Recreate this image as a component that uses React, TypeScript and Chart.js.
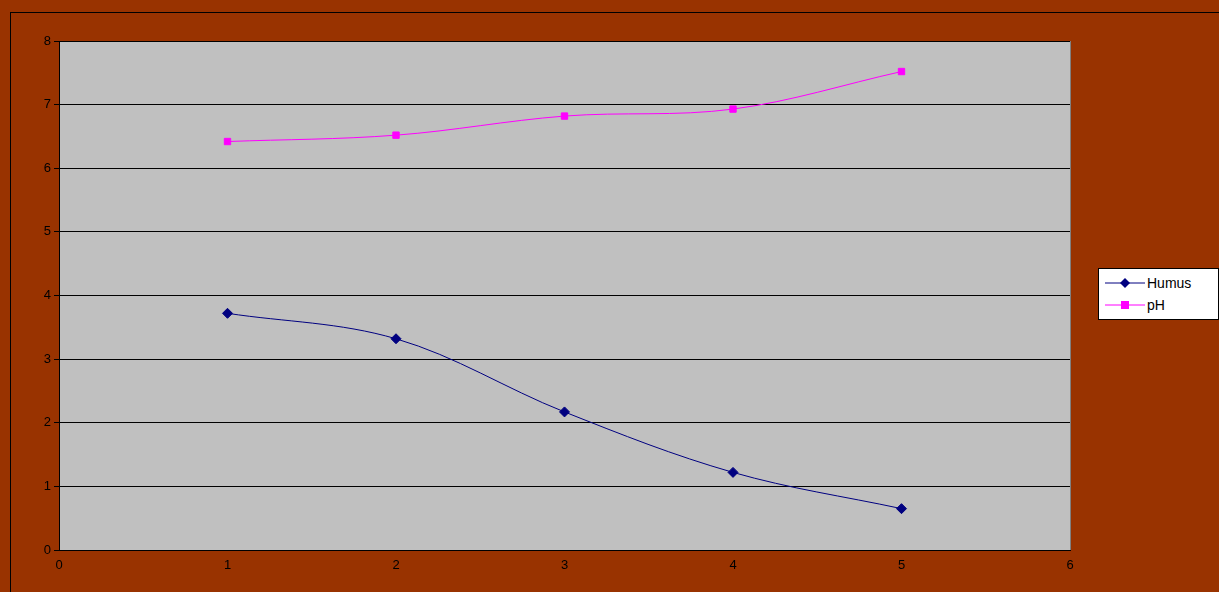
import React, { useEffect, useRef } from "react";
import { Chart, registerables } from "chart.js";
Chart.register(...registerables);

const xValues = [1, 2, 3, 4, 5];
const humus = [3.72, 3.32, 2.17, 1.22, 0.65];
const ph = [6.42, 6.52, 6.82, 6.93, 7.52];

const bgPlugin = {
  id: "bg",
  beforeDraw(chart: any) {
    const { ctx, chartArea: a } = chart;
    ctx.save();
    ctx.fillStyle = "#c0c0c0";
    ctx.fillRect(a.left, a.top, a.right - a.left, a.bottom - a.top);
    ctx.strokeStyle = "#808080";
    ctx.lineWidth = 1;
    ctx.strokeRect(a.left + 0.5, a.top + 0.5, a.right - a.left, a.bottom - a.top);
    ctx.restore();
  },
};

export default function App() {
  const ref = useRef<HTMLCanvasElement>(null);
  useEffect(() => {
    document.body.style.margin = "0";
    const mk = (d: number[]) => xValues.map((x, i) => ({ x, y: d[i] }));
    const chart = new Chart(ref.current!, {
      type: "scatter",
      data: {
        datasets: [
          { label: "Humus", data: mk(humus), showLine: true, borderColor: "#000080", backgroundColor: "#000080", borderWidth: 1, pointStyle: "rectRot", pointRadius: 5, tension: 0.35 },
          { label: "pH", data: mk(ph), showLine: true, borderColor: "#ff00ff", backgroundColor: "#ff00ff", borderWidth: 1, pointStyle: "rect", pointRadius: 4.5, tension: 0.35 },
        ],
      },
      plugins: [bgPlugin],
      options: {
        animation: false,
        responsive: false,
        layout: { padding: { left: 0, right: 149, top: 41, bottom: 0 } },
        plugins: { legend: { display: false }, tooltip: { enabled: false } },
        scales: {
          x: {
            type: "linear", min: 0, max: 6,
            ticks: { stepSize: 1, color: "#000", font: { family: "Arial", size: 13 } },
            grid: { display: false, drawOnChartArea: false, drawTicks: true, tickLength: 5, color: "#000" },
            border: { color: "#000" },
            afterFit: (s: any) => { s.height = 42; },
          },
          y: {
            min: 0, max: 8,
            ticks: { stepSize: 1, color: "#000", font: { family: "Arial", size: 13 } },
            grid: { color: "#000", tickLength: 5 },
            border: { color: "#000" },
            afterFit: (s: any) => { s.width = 59; },
          },
        },
      },
    });
    return () => chart.destroy();
  }, []);
  return (
    <div style={{ position: "relative", width: 1219, height: 592, background: "#993300", fontFamily: "Arial" }}>
      <div style={{ position: "absolute", left: 10, top: 12, width: 1209, height: 580, border: "1px solid #000", borderRight: "none", borderBottom: "none", boxSizing: "border-box" }} />
      <canvas ref={ref} width={1219} height={592} style={{ position: "absolute", left: 0, top: 0 }} />
      <div style={{ position: "absolute", left: 1098, top: 268, width: 121, height: 52, background: "#fff", border: "1px solid #000", boxSizing: "border-box", fontSize: 14 }}>
        {[["Humus", "#000080", true], ["pH", "#ff00ff", false]].map(([l, c, d]: any, i) => (
          <div key={i} style={{ position: "absolute", left: 6, top: 4 + i * 22, height: 20, display: "flex", alignItems: "center" }}>
            <svg width={40} height={12}>
              <line x1={0} y1={6} x2={40} y2={6} stroke={c} strokeWidth={1} />
              {d ? <polygon points="20,1 25,6 20,11 15,6" fill={c} /> : <rect x={16} y={2} width={8} height={8} fill={c} />}
            </svg>
            <span style={{ marginLeft: 2 }}>{l}</span>
          </div>
        ))}
      </div>
    </div>
  );
}
